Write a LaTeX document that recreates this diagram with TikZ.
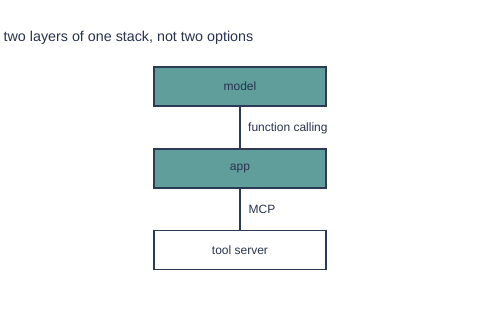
\documentclass[tikz,border=0pt]{standalone}
\usepackage{fontspec}
\setmainfont{Liberation Sans}
\definecolor{tealfill}{HTML}{5F9E9B}
\definecolor{edge}{HTML}{2D3A55}
\definecolor{ink}{HTML}{2A3350}
\begin{document}
\begin{tikzpicture}[x=1pt,y=-1pt,
  layer/.style={draw=edge, line width=1.1pt, minimum width=172pt, minimum height=39pt, inner sep=0pt, text=ink, font=\fontsize{12}{14}\selectfont},
  filled/.style={layer, fill=tealfill},
  plain/.style={layer, fill=white},
  conn/.style={draw=edge, line width=1.1pt},
  lbl/.style={text=ink, font=\fontsize{12}{14}\selectfont, anchor=west, inner sep=0pt}]
\useasboundingbox (0,0) rectangle (480,320);
\fill[white] (0,0) rectangle (480,320);
\node[text=ink, font=\fontsize{14.3}{17}\selectfont, anchor=west, inner sep=0pt] (title) at (3.5,37.5) {two layers of one stack, not two options};
\node[filled] (model) at (240,86.5) {model};
\node[filled] (app) at (240,168.5) {app};
\node[plain] (tool) at (240,250.3) {tool server};
\draw[conn] (model) -- (app);
\draw[conn] (app) -- (tool);
\node[lbl] (fc) at (248,128.3) {function calling};
\node[lbl] (mcp) at (248.5,209.5) {MCP};
\end{tikzpicture}
\end{document}
